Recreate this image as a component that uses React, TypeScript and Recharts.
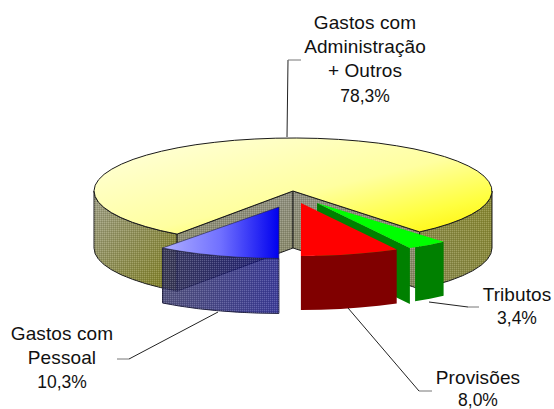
import React from "react";
import { PieChart, Pie } from "recharts";

const categories = ["Gastos com Administração + Outros", "Gastos com Pessoal", "Provisões", "Tributos"];
const seriesValues = [78.3, 10.3, 8.0, 3.4];
const percentLabels = ["78,3%", "10,3%", "8,0%", "3,4%"];
const labelLines = [
  ["Gastos com", "Administração", "+ Outros"],
  ["Gastos com", "Pessoal"],
  ["Provisões"],
  ["Tributos"],
];

const tableData = categories.map((name, i) => ({ name, value: seriesValues[i], idx: i }));

const W = 554, H = 409;
const CX = 293, CY = 191, R = 199, RATIO = 53 / 199;
const START = -49;
const offsets = [[0, 0], [-14, 16], [8, 12], [24, 12]];
const depths = [57, 55, 54, 56];
const radiusScale = [1, 0.97, 1, 0.97];
const labelPos = [
  { x: 365, y: [29, 53, 77, 102] },
  { x: 62, y: [340, 364, 388] },
  { x: 478, y: [384, 405.5] },
  { x: 517, y: [301, 324] },
];
const leaders = [
  { dark: "287,137 288,60", light: "288,60 301,60" },
  { dark: "218,312 129,359", light: "129,359 117,359" },
  { dark: "348,308 419,391", light: "419,391 432,391" },
  { dark: "429,302 468,307", light: "468,307 479,307" },
];

type P = [number, number];
const pt = (cx: number, cy: number, r: number, a: number): P => {
  const t = (a * Math.PI) / 180;
  return [cx + r * Math.cos(t), cy - R * (r / R) * RATIO * Math.sin(t)];
};
const arc = (cx: number, cy: number, r: number, a0: number, a1: number, step = 6): P[] => {
  const n = Math.max(1, Math.round(Math.abs(a1 - a0) / step));
  const out: P[] = [];
  for (let i = 0; i <= n; i++) out.push(pt(cx, cy, r, a0 + ((a1 - a0) * i) / n));
  return out;
};
const d = (ps: P[]) => "M" + ps.map((p) => p[0].toFixed(1) + " " + p[1].toFixed(1)).join("L") + "Z";
const drop = (ps: P[], h: number): P[] => ps.map((p) => [p[0], p[1] + h] as P);
const wall = (ps: P[], h: number) => d([...ps, ...drop(ps, h).reverse()]);

const Hatch = ({ path }: { path: string }) => <path d={path} fill="url(#hatch)" stroke="none" />;

const Defs = () => (
  <defs>
    <pattern id="hatch" width="2" height="2" patternUnits="userSpaceOnUse">
      <rect x="0" y="0" width="1" height="1" fill="#fff" fillOpacity="0.18" />
      <rect x="1" y="1" width="1" height="1" fill="#000" fillOpacity="0.12" />
    </pattern>
    <linearGradient id="topY" x1="0" y1="0" x2="1" y2="1">
      <stop offset="0" stopColor="#ffffe0" />
      <stop offset="0.55" stopColor="#ffffa0" />
      <stop offset="0.8" stopColor="#ffff40" />
      <stop offset="1" stopColor="#fff000" />
    </linearGradient>
    <linearGradient id="wallL" x1="0" y1="0" x2="1" y2="1">
      <stop offset="0" stopColor="#a0a088" />
      <stop offset="1" stopColor="#808020" />
    </linearGradient>
    <linearGradient id="wallR" x1="0" y1="1" x2="1" y2="0">
      <stop offset="0" stopColor="#8a8a50" />
      <stop offset="1" stopColor="#8a8a30" />
    </linearGradient>
    <linearGradient id="wallI" x1="0" y1="0" x2="0" y2="1">
      <stop offset="0" stopColor="#909080" />
      <stop offset="1" stopColor="#888860" />
    </linearGradient>
    <linearGradient id="topB" x1="0" y1="0" x2="1" y2="0">
      <stop offset="0" stopColor="#b0b0ff" />
      <stop offset="0.5" stopColor="#7070ff" />
      <stop offset="1" stopColor="#0000ee" />
    </linearGradient>
    <linearGradient id="wallB" x1="0" y1="0" x2="1" y2="0">
      <stop offset="0" stopColor="#2a2a60" />
      <stop offset="1" stopColor="#0c0c80" />
    </linearGradient>
  </defs>
);

const Slice = (props: any) => {
  const id: number = props.idx ?? props.payload?.idx;
  const { startAngle: a0, endAngle: a1 } = props;
  const [ox, oy] = offsets[id];
  const cx = props.cx + ox, cy = props.cy + oy, r = props.outerRadius * radiusScale[id], h = depths[id];
  const apex: P = [cx, cy];
  if (id === 0) {
    const trim = 1.5;
    const left = arc(cx, cy, r, 180, a1 + trim);
    const right = arc(cx, cy, r, 360 + a0 - trim, 360);
    const end = pt(cx, cy, r, a1 + trim), st = pt(cx, cy, r, a0 - trim);
    const stroke = { stroke: "#1a1a1a", strokeWidth: 1, strokeLinejoin: "round" as const };
    const iL = wall([apex, end], h), iR = wall([apex, st], h);
    const wl = wall(left, h), wr = wall(right, h);
    return (
      <g>
        <Defs />
        <path d={wl} fill="url(#wallL)" {...stroke} /><Hatch path={wl} />
        <path d={wr} fill="url(#wallR)" {...stroke} /><Hatch path={wr} />
        <path d={iL} fill="url(#wallI)" {...stroke} /><Hatch path={iL} />
        <path d={iR} fill="url(#wallI)" {...stroke} /><Hatch path={iR} />
        <path d={d([apex, ...arc(cx, cy, r, a0 - trim, a1 + trim)])} fill="url(#topY)" {...stroke} />
      </g>
    );
  }
  if (id === 1) {
    const o = arc(cx, cy, r, a0, a1);
    const w = wall(o, h);
    return (
      <g>
        <path d={w} fill="url(#wallB)" fillOpacity={0.8} stroke="#202040" strokeWidth={1} />
        <Hatch path={w} />
        <path d={d([apex, ...o])} fill="url(#topB)" stroke="#202040" strokeWidth={0.6} />
      </g>
    );
  }
  if (id === 2) {
    const o = arc(cx, cy, r, a0, a1);
    return (
      <g>
        <path d={wall(o, h)} fill="#800000" />
        <path d={d([apex, ...o])} fill="#ff0000" />
      </g>
    );
  }
  const o = arc(cx, cy, r, a0 + 1.8, a1);
  const inner = pt(cx, cy, r, a0);
  return (
    <g>
      <path d={wall([apex, inner], h)} fill="#008000" />
      <path d={wall(o, h - 2)} fill="#008000" />
      <path d={d([apex, ...arc(cx, cy, r, a0, a1)])} fill="#00ff00" />
    </g>
  );
};

const shapeBack = (props: any) => {
  const id = props.idx ?? props.payload?.idx;
  return id === 0 || id === 3 ? <Slice {...props} /> : <g />;
};
const shapeFront = (props: any) => {
  const id = props.idx ?? props.payload?.idx;
  return id === 1 || id === 2 ? <Slice {...props} /> : <g />;
};

const renderLabel = (props: any) => {
  const id: number = props.idx ?? props.payload?.idx ?? props.index;
  const pos = labelPos[id];
  const names = labelLines[id];
  const font = "'Liberation Sans', Arial, sans-serif";
  return (
    <g key={id}>
      <polyline points={leaders[id].dark} fill="none" stroke="#222" strokeWidth={1} />
      <polyline points={leaders[id].light} fill="none" stroke="#777" strokeWidth={1} />
      {names.map((t, i) => (
        <text key={i} x={pos.x} y={pos.y[i]} textAnchor="middle" fontFamily={font} fontSize={19} letterSpacing={0.1} fill="#111">
          {t}
        </text>
      ))}
      <text x={pos.x} y={pos.y[names.length]} textAnchor="middle" fontFamily={font} fontSize={17.5} fill="#111">
        {percentLabels[id]}
      </text>
    </g>
  );
};

export default function App() {
  const common = {
    data: tableData,
    dataKey: "value",
    nameKey: "name",
    cx: CX,
    cy: CY,
    innerRadius: 0,
    outerRadius: R,
    startAngle: START,
    endAngle: START + 360,
    stroke: "none",
    isAnimationActive: false,
  };
  return (
    <div style={{ position: "absolute", left: 0, top: 0, width: W, height: H, background: "#fff" }}>
      <PieChart width={W} height={H} margin={{ top: 0, right: 0, bottom: 0, left: 0 }}>
        <Pie {...common} shape={shapeBack} />
        <Pie {...common} shape={shapeFront} label={renderLabel} labelLine={false} />
      </PieChart>
    </div>
  );
}
